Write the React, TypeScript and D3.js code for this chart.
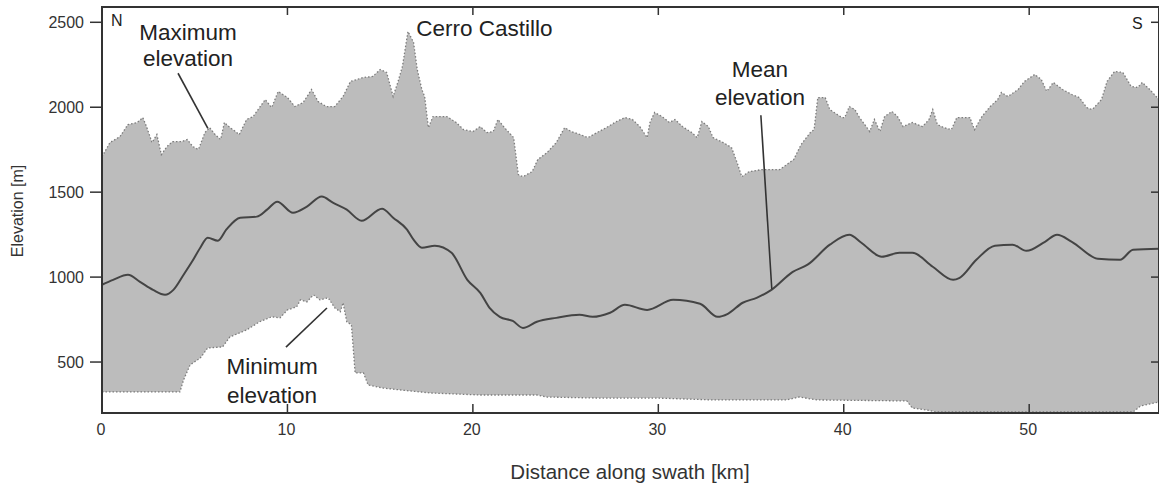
import React, { useEffect, useRef } from 'react';
import * as d3 from 'd3';

// [km, elevation m]
const maxProfile = [
  [0, 1709], [0.43, 1792], [0.97, 1827], [1.4, 1898], [1.9, 1910], [2.2, 1939], [2.4, 1886],
  [2.7, 1792], [2.96, 1839], [3.2, 1721], [3.5, 1768], [3.8, 1798], [4.3, 1798], [4.6, 1810],
  [4.9, 1768], [5.2, 1751], [5.55, 1851], [5.8, 1880], [6.1, 1839], [6.4, 1810], [6.6, 1910],
  [6.9, 1880], [7.2, 1857], [7.4, 1839], [7.8, 1928], [8.15, 1945], [8.8, 2045], [9.15, 1998],
  [9.5, 2093], [10, 2057], [10.4, 2004], [10.85, 2028], [11.3, 2104], [11.65, 2034], [12.1, 2004],
  [12.55, 2004], [13, 2063], [13.4, 2152], [14.1, 2175], [14.6, 2181], [15, 2222], [15.35, 2205],
  [15.7, 2063], [15.95, 2146], [16.2, 2240], [16.5, 2446], [16.8, 2382], [17, 2222], [17.25, 2104],
  [17.4, 2063], [17.6, 1880], [17.85, 1945], [18.6, 1945], [19.1, 1910], [19.5, 1868], [20, 1857],
  [20.4, 1886], [20.75, 1851], [21.1, 1857], [21.35, 1928], [21.7, 1880], [22.2, 1821],
  [22.45, 1603], [22.7, 1591], [23.2, 1621], [23.5, 1692], [24, 1733], [24.5, 1792], [24.95, 1880],
  [25.3, 1857], [25.8, 1839], [26.2, 1821], [26.7, 1851], [27.2, 1880], [27.75, 1916], [28.2, 1939],
  [28.6, 1928], [29, 1886], [29.4, 1821], [29.55, 1910], [29.8, 1969], [30.2, 1945], [30.6, 1910],
  [30.9, 1928], [31.3, 1886], [31.8, 1851], [32.1, 1821], [32.35, 1916], [32.7, 1886], [32.95, 1821],
  [33.5, 1792], [33.95, 1762], [34.25, 1674], [34.5, 1591], [34.9, 1621], [35.6, 1633], [36.55, 1633],
  [37.3, 1692], [37.7, 1780], [38.2, 1851], [38.4, 1868], [38.6, 2057], [39, 2057], [39.25, 1986],
  [39.9, 1939], [40.05, 1939], [40.3, 2004], [40.6, 1986], [40.85, 1939], [41.25, 1880], [41.4, 1857],
  [41.65, 1928], [41.95, 1857], [42.2, 1945], [42.6, 1975], [42.9, 1945], [43.2, 1886], [43.7, 1910],
  [44.25, 1886], [44.6, 1928], [44.8, 1986], [45.05, 1898], [45.4, 1880], [45.8, 1868], [46.1, 1939],
  [46.8, 1939], [47.05, 1868], [47.45, 1945], [47.9, 2004], [48.3, 2045], [48.5, 2087], [48.85, 2063],
  [49.4, 2104], [49.75, 2152], [50.3, 2193], [50.65, 2163], [50.95, 2093], [51.3, 2146], [51.8, 2104],
  [52.3, 2075], [52.7, 2057], [53.1, 1998], [53.4, 1986], [53.9, 2045], [54.2, 2152], [54.6, 2210],
  [55.05, 2205], [55.5, 2122], [55.85, 2116], [56.1, 2146], [56.5, 2104], [57, 2045]
];

const meanProfile = [
  [0, 955], [0.6, 984], [1.4, 1014], [2.05, 972], [2.75, 925], [3.4, 896], [3.85, 925], [4.4, 1014],
  [4.85, 1090], [5.3, 1173], [5.7, 1232], [6.25, 1214], [6.7, 1279], [7.45, 1350], [8.35, 1356],
  [8.9, 1397], [9.45, 1444], [10.3, 1379], [11.05, 1415], [11.85, 1474], [12.45, 1438], [13.2, 1397],
  [14, 1332], [15.1, 1403], [15.7, 1350], [16.45, 1279], [16.8, 1220], [17.25, 1173], [17.95, 1185],
  [18.85, 1143], [19.7, 984], [20.4, 907], [20.9, 819], [21.45, 766], [22.15, 742], [22.7, 701],
  [23.45, 737], [24.5, 760], [25.75, 778], [26.45, 766], [27.4, 790], [28.2, 837], [29.4, 807],
  [30.8, 866], [32.25, 843], [33.2, 766], [33.75, 784], [34.55, 849], [35.3, 878], [36.1, 925],
  [37.25, 1031], [38.05, 1073], [39.25, 1191], [40.3, 1249], [40.95, 1202], [42.05, 1120], [43, 1143],
  [43.7, 1143], [44.8, 1061], [45.9, 984], [46.25, 996], [47.15, 1102], [48.15, 1185], [49.1, 1191],
  [49.85, 1155], [50.85, 1208], [51.5, 1249], [52.3, 1208], [53.7, 1108], [54.9, 1102], [55.6, 1161],
  [57, 1167]
];

const minProfile = [
  [0, 324], [4.2, 324], [4.4, 395], [4.75, 483], [5.3, 524], [5.7, 583], [6.5, 589], [6.9, 648],
  [7.8, 689], [8.5, 737], [9.15, 766], [9.6, 760], [10, 807], [10.5, 825], [10.7, 866], [11.05, 854],
  [11.4, 896], [11.75, 866], [12.2, 878], [12.55, 819], [12.85, 796], [13, 849], [13.2, 737],
  [13.45, 719], [13.65, 436], [14.1, 436], [14.35, 365], [15.15, 347], [16.05, 336], [17.7, 318],
  [20.4, 306], [23.45, 306], [24, 294], [26.7, 288], [29.9, 288], [32.95, 277], [36.9, 277],
  [37.6, 294], [38.55, 277], [43.4, 271], [43.7, 229], [44.45, 218], [45, 206], [55.6, 206],
  [56, 241], [57, 265]
];

const xTicks = [0, 10, 20, 30, 40, 50];
const yTicks = [500, 1000, 1500, 2000, 2500];

// annotation texts (baseline of first line) with their pointer lines, in km / m
const notes = [
  { lines: ['Maximum', 'elevation'], at: [4.64, 2396], gap: 26, from: [4.1, 2200], to: [5.71, 1876] },
  { lines: ['Minimum', 'elevation'], at: [9.17, 430], gap: 29, from: [12.13, 818], to: [9.92, 588] },
  { lines: ['Mean', 'elevation'], at: [35.48, 2178], gap: 28, from: [35.53, 1953], to: [36.12, 930] }
];

export default function App() {
  const ref = useRef<SVGSVGElement>(null);

  useEffect(() => {
    const svg = d3.select(ref.current);
    svg.selectAll('*').remove();

    const margin = { top: 7, right: 0, bottom: 71, left: 102 };
    const W = 1159, H = 484;
    const x = d3.scaleLinear().domain([0, 57]).range([margin.left, W - margin.right]);
    const y = d3.scaleLinear().domain([200, 2590]).range([H - margin.bottom, margin.top]);

    // band between min and max: join the two profiles
    const band = maxProfile.concat(minProfile.slice().reverse());
    svg.append('path')
      .attr('d', d3.line().x(d => x(d[0])).y(d => y(d[1]))(band as any) + 'Z')
      .attr('fill', '#bcbcbc');

    const line = d3.line<number[]>().x(d => x(d[0])).y(d => y(d[1]));
    [maxProfile, minProfile].forEach(p => {
      svg.append('path')
        .attr('d', line(p))
        .attr('fill', 'none')
        .attr('stroke', '#7c7c7c')
        .attr('stroke-width', 1.3)
        .attr('stroke-dasharray', '1.5 2');
    });

    svg.append('path')
      .attr('d', line.curve(d3.curveMonotoneX)(meanProfile))
      .attr('fill', 'none')
      .attr('stroke', '#444')
      .attr('stroke-width', 2);

    // frame
    const x0 = x(0), x1 = x(57), y0 = y(200), y1 = y(2590);
    svg.append('rect')
      .attr('x', x0).attr('y', y1)
      .attr('width', x1 - x0).attr('height', y0 - y1)
      .attr('fill', 'none').attr('stroke', '#333').attr('stroke-width', 2);

    const g = svg.append('g').attr('font-family', 'Liberation Sans, Arial, sans-serif');

    // x ticks (inward, top and bottom) and labels
    xTicks.forEach(t => {
      g.append('line').attr('x1', x(t)).attr('x2', x(t)).attr('y1', y0).attr('y2', y0 - 9)
        .attr('stroke', '#333').attr('stroke-width', 1.5);
      g.append('line').attr('x1', x(t)).attr('x2', x(t)).attr('y1', y1).attr('y2', y1 + 8)
        .attr('stroke', '#333').attr('stroke-width', 1.5);
      g.append('text').attr('x', x(t) - 1).attr('y', y0 + 22)
        .attr('text-anchor', 'middle').attr('font-size', 16).attr('fill', '#333')
        .text(t);
    });

    // y ticks (outward left, inward right) and labels
    yTicks.forEach(t => {
      g.append('line').attr('x1', x0 - 12).attr('x2', x0).attr('y1', y(t)).attr('y2', y(t))
        .attr('stroke', '#333').attr('stroke-width', 1.5);
      g.append('line').attr('x1', x1 - 8).attr('x2', x1).attr('y1', y(t)).attr('y2', y(t))
        .attr('stroke', '#333').attr('stroke-width', 1.5);
      g.append('text').attr('x', x0 - 18).attr('y', y(t) + 6)
        .attr('text-anchor', 'end').attr('font-size', 16).attr('fill', '#333')
        .text(t);
    });

    g.append('text').attr('transform', `translate(23,211) rotate(-90)`)
      .attr('text-anchor', 'middle').attr('font-size', 16).attr('fill', '#333')
      .text('Elevation [m]');
    g.append('text').attr('x', 630).attr('y', 479)
      .attr('text-anchor', 'middle').attr('font-size', 20.5).attr('fill', '#333')
      .text('Distance along swath [km]');

    g.append('text').attr('x', x0 + 9).attr('y', 26).attr('font-size', 16).attr('fill', '#222').text('N');
    g.append('text').attr('x', x1 - 27).attr('y', 29).attr('font-size', 16).attr('fill', '#222').text('S');

    g.append('text').attr('x', x(16.95)).attr('y', 36)
      .attr('font-size', 22.5).attr('fill', '#222').text('Cerro Castillo');

    notes.forEach(n => {
      g.append('line')
        .attr('x1', x(n.from[0])).attr('y1', y(n.from[1]))
        .attr('x2', x(n.to[0])).attr('y2', y(n.to[1]))
        .attr('stroke', '#333').attr('stroke-width', 1.6);
      n.lines.forEach((s, i) => {
        g.append('text')
          .attr('x', x(n.at[0])).attr('y', y(n.at[1]) + i * n.gap)
          .attr('text-anchor', 'middle').attr('font-size', 22.5).attr('fill', '#222')
          .text(s);
      });
    });
  }, []);

  return (
    <svg ref={ref} width={1159} height={484}
      style={{ position: 'absolute', left: 0, top: 0, background: '#fff' }} />
  );
}
